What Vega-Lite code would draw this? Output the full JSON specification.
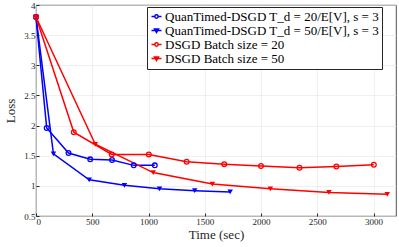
{
  "$schema": "https://vega.github.io/schema/vega-lite/v6.json",
  "width": 360,
  "height": 211,
  "autosize": {"type": "none"},
  "padding": {"left": 36, "top": 5, "right": 3, "bottom": 31},
  "background": "white",
  "config": {
    "font": "Liberation Serif",
    "view": {"stroke": "#262626", "strokeWidth": 0.8},
    "axis": {
      "grid": true, "gridColor": "#e6e6e6", "gridWidth": 0.6,
      "domain": false, "tickColor": "#262626", "ticks": true, "tickSize": -3,
      "labelFont": "Liberation Serif", "labelFontSize": 9, "labelColor": "#262626",
      "titleFont": "Liberation Serif", "titleFontSize": 13, "titleFontWeight": "normal", "titleColor": "#262626"
    },
    "legend": {
      "labelFont": "Liberation Serif", "labelFontSize": 13, "labelColor": "#000000",
      "fillColor": "white", "strokeColor": "#262626", "padding": 3,
      "rowPadding": 0, "symbolStrokeWidth": 1.5, "labelLimit": 400, "labelOffset": 2
    }
  },
  "data": {"values": [
    {"series": "QuanTimed-DSGD T_d = 20/E[V], s = 3", "t": 0, "loss": 3.8},
    {"series": "QuanTimed-DSGD T_d = 20/E[V], s = 3", "t": 95, "loss": 1.96},
    {"series": "QuanTimed-DSGD T_d = 20/E[V], s = 3", "t": 289, "loss": 1.545},
    {"series": "QuanTimed-DSGD T_d = 20/E[V], s = 3", "t": 482, "loss": 1.44},
    {"series": "QuanTimed-DSGD T_d = 20/E[V], s = 3", "t": 676, "loss": 1.43},
    {"series": "QuanTimed-DSGD T_d = 20/E[V], s = 3", "t": 869, "loss": 1.34},
    {"series": "QuanTimed-DSGD T_d = 20/E[V], s = 3", "t": 1056, "loss": 1.34},
    {"series": "QuanTimed-DSGD T_d = 50/E[V], s = 3", "t": 0, "loss": 3.8},
    {"series": "QuanTimed-DSGD T_d = 50/E[V], s = 3", "t": 155, "loss": 1.53},
    {"series": "QuanTimed-DSGD T_d = 50/E[V], s = 3", "t": 473, "loss": 1.1},
    {"series": "QuanTimed-DSGD T_d = 50/E[V], s = 3", "t": 786, "loss": 1.01},
    {"series": "QuanTimed-DSGD T_d = 50/E[V], s = 3", "t": 1098, "loss": 0.95},
    {"series": "QuanTimed-DSGD T_d = 50/E[V], s = 3", "t": 1411, "loss": 0.92},
    {"series": "QuanTimed-DSGD T_d = 50/E[V], s = 3", "t": 1726, "loss": 0.9},
    {"series": "DSGD Batch size = 20", "t": 0, "loss": 3.8},
    {"series": "DSGD Batch size = 20", "t": 336, "loss": 1.89},
    {"series": "DSGD Batch size = 20", "t": 673, "loss": 1.52},
    {"series": "DSGD Batch size = 20", "t": 1003, "loss": 1.52},
    {"series": "DSGD Batch size = 20", "t": 1339, "loss": 1.4},
    {"series": "DSGD Batch size = 20", "t": 1673, "loss": 1.36},
    {"series": "DSGD Batch size = 20", "t": 2000, "loss": 1.33},
    {"series": "DSGD Batch size = 20", "t": 2342, "loss": 1.3},
    {"series": "DSGD Batch size = 20", "t": 2670, "loss": 1.32},
    {"series": "DSGD Batch size = 20", "t": 3003, "loss": 1.35},
    {"series": "DSGD Batch size = 50", "t": 0, "loss": 3.8},
    {"series": "DSGD Batch size = 50", "t": 527, "loss": 1.69},
    {"series": "DSGD Batch size = 50", "t": 1042, "loss": 1.22},
    {"series": "DSGD Batch size = 50", "t": 1568, "loss": 1.03},
    {"series": "DSGD Batch size = 50", "t": 2083, "loss": 0.95},
    {"series": "DSGD Batch size = 50", "t": 2604, "loss": 0.89},
    {"series": "DSGD Batch size = 50", "t": 3122, "loss": 0.86}
  ]},
  "encoding": {
    "x": {"field": "t", "type": "quantitative", "title": "Time (sec)",
          "scale": {"domain": [0, 3200], "nice": false},
          "axis": {"values": [0, 500, 1000, 1500, 2000, 2500, 3000], "format": "d", "titlePadding": 2, "labelPadding": 4}},
    "y": {"field": "loss", "type": "quantitative", "title": "Loss",
          "scale": {"domain": [0.5, 4], "nice": false},
          "axis": {"values": [0.5, 1, 1.5, 2, 2.5, 3, 3.5, 4], "format": "~g", "titlePadding": 6, "labelPadding": 4}}
  },
  "layer": [
    {
      "mark": {"type": "line", "strokeWidth": 1.5},
      "encoding": {
        "color": {"field": "series", "type": "nominal", "legend": null,
          "scale": {"domain": ["QuanTimed-DSGD T_d = 20/E[V], s = 3", "QuanTimed-DSGD T_d = 50/E[V], s = 3", "DSGD Batch size = 20", "DSGD Batch size = 50"],
                    "range": ["#0000ff", "#0000ff", "#ff0000", "#ff0000"]}},
        "order": {"field": "t", "type": "quantitative"}
      }
    },
    {
      "transform": [{"filter": "indexof(datum.series, '= 20') >= 0"}],
      "mark": {"type": "point", "shape": "circle", "filled": false, "size": 22, "strokeWidth": 1.3, "opacity": 1},
      "encoding": {
        "color": {"field": "series", "type": "nominal", "legend": null,
          "scale": {"domain": ["QuanTimed-DSGD T_d = 20/E[V], s = 3", "DSGD Batch size = 20"],
                    "range": ["#0000ff", "#ff0000"]}}
      }
    },
    {
      "transform": [{"filter": "indexof(datum.series, '= 50') >= 0"}],
      "mark": {"type": "point", "shape": "triangle-down", "filled": true, "size": 30, "opacity": 1},
      "encoding": {
        "color": {"field": "series", "type": "nominal", "legend": null,
          "scale": {"domain": ["QuanTimed-DSGD T_d = 50/E[V], s = 3", "DSGD Batch size = 50"],
                    "range": ["#0000ff", "#ff0000"]}}
      }
    },
    {
      "transform": [{"filter": "datum.t < 0"}],
      "mark": {"type": "point", "filled": true, "size": 225, "opacity": 1},
      "encoding": {
        "stroke": {"field": "series", "type": "nominal", "title": null,
          "legend": {"orient": "none", "legendX": 111, "legendY": 2},
          "scale": {"domain": ["QuanTimed-DSGD T_d = 20/E[V], s = 3", "QuanTimed-DSGD T_d = 50/E[V], s = 3", "DSGD Batch size = 20", "DSGD Batch size = 50"],
                    "range": ["#0000ff", "#0000ff", "#ff0000", "#ff0000"]}},
        "fill": {"field": "series", "type": "nominal", "title": null,
          "legend": {"orient": "none", "legendX": 111, "legendY": 2},
          "scale": {"domain": ["QuanTimed-DSGD T_d = 20/E[V], s = 3", "QuanTimed-DSGD T_d = 50/E[V], s = 3", "DSGD Batch size = 20", "DSGD Batch size = 50"],
                    "range": ["transparent", "#0000ff", "transparent", "#ff0000"]}},
        "shape": {"field": "series", "type": "nominal", "title": null,
          "legend": {"orient": "none", "legendX": 111, "legendY": 2},
          "scale": {"domain": ["QuanTimed-DSGD T_d = 20/E[V], s = 3", "QuanTimed-DSGD T_d = 50/E[V], s = 3", "DSGD Batch size = 20", "DSGD Batch size = 50"],
                    "range": [
                      "M-1,0L-0.33,0M0.33,0L1,0M0.33,0A0.33,0.33 0 1,1 -0.33,0A0.33,0.33 0 1,1 0.33,0",
                      "M-1,0L1,0M-0.4,-0.3L0.4,-0.3L0,0.4Z",
                      "M-1,0L-0.33,0M0.33,0L1,0M0.33,0A0.33,0.33 0 1,1 -0.33,0A0.33,0.33 0 1,1 0.33,0",
                      "M-1,0L1,0M-0.4,-0.3L0.4,-0.3L0,0.4Z"
                    ]}}
      }
    }
  ],
  "resolve": {"scale": {"color": "independent"}}
}
